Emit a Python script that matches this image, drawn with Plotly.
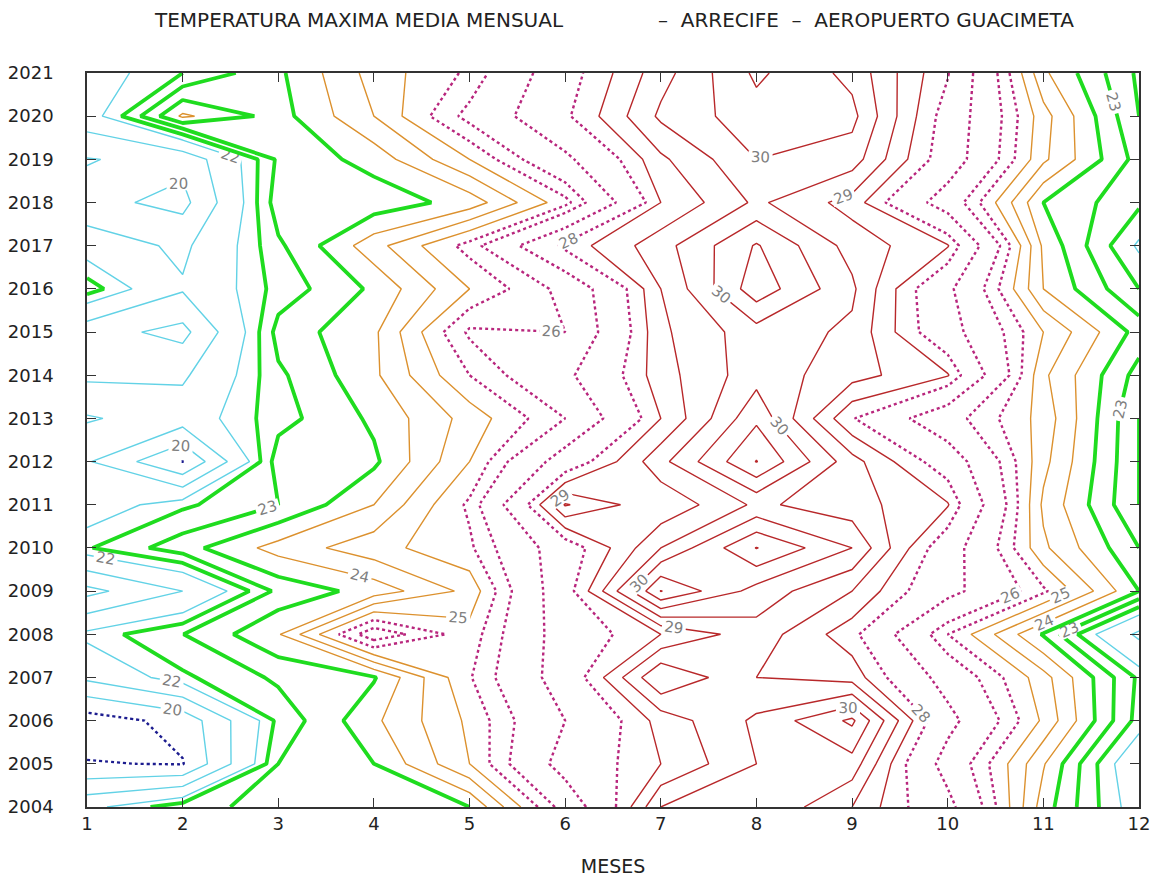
import plotly.graph_objects as go

months = list(range(1, 13))
years = list(range(2004, 2022))

# Mean monthly max temperature (rows = years 2004..2021, cols = months 1..12)
t2004 = [21.77, 22.87, 23.13, 23.3, 23.5, 26.3, 29.5, 30.0, 29.0, 27.3, 23.75, 21.6]
t2005 = [19.05, 18.95, 23.0, 23.5, 25.0, 27.4, 28.5, 29.5, 29.8, 26.6, 24.05, 21.3]
t2006 = [18.5, 19.33, 22.65, 23.9, 25.1, 27.0, 28.7, 29.6, 30.6, 27.3, 24.9, 22.3]
t2007 = [21.2, 22.4, 23.1, 23.45, 25.45, 27.5, 30.0, 29.0, 28.8, 26.6, 24.7, 22.4]
t2008 = [22.2, 22.99, 23.95, 26.4, 25.2, 27.5, 28.5, 29.3, 28.2, 25.5, 23.45, 20.8]
t2009 = [19.7, 21.0, 23.15, 23.7, 24.65, 27.7, 31.02, 29.8, 29.0, 27.3, 25.6, 23.5]
t2010 = [22.45, 23.3, 24.2, 24.8, 25.4, 27.6, 29.5, 31.02, 30.0, 27.5, 24.6, 23.0]
t2011 = [21.5, 22.4, 23.0, 24.0, 25.6, 29.55, 28.6, 29.6, 29.2, 28.55, 24.4, 22.5]
t2012 = [21.1, 18.98, 23.3, 23.4, 25.0, 27.5, 29.35, 31.02, 29.2, 27.6, 24.65, 22.5]
t2013 = [22.1, 21.5, 22.8, 23.6, 24.7, 26.0, 28.5, 30.4, 28.05, 26.3, 24.8, 22.5]
t2014 = [20.8, 20.85, 22.9, 23.9, 25.5, 26.8, 28.8, 29.8, 29.2, 28.55, 24.6, 22.8]
t2015 = [20.4, 19.7, 23.2, 23.9, 26.1, 26.0, 28.9, 29.8, 29.4, 27.4, 25.0, 23.3]
t2016 = [22.8, 21.1, 22.7, 23.6, 25.0, 26.2, 29.0, 30.8, 29.6, 27.2, 24.0, 22.5]
t2017 = [21.6, 20.8, 22.9, 24.3, 25.7, 28.2, 29.3, 30.55, 29.3, 28.55, 23.9, 21.9]
t2018 = [20.3, 19.7, 23.3, 23.2, 23.7, 25.3, 28.5, 29.6, 28.8, 26.5, 23.5, 22.6]
t2019 = [19.95, 20.3, 23.1, 23.7, 25.0, 26.8, 28.9, 30.0, 29.75, 27.6, 24.6, 22.8]
t2020 = [21.6, 24.1, 23.3, 24.5, 26.2, 27.9, 29.6, 30.3, 30.15, 27.7, 24.7, 22.5]
t2021 = [21.6, 22.5, 23.4, 24.7, 25.6, 27.7, 29.3, 30.6, 29.85, 28.05, 24.1, 22.4]

temps = [t2004, t2005, t2006, t2007, t2008, t2009, t2010, t2011, t2012,
         t2013, t2014, t2015, t2016, t2017, t2018, t2019, t2020, t2021]

# contour levels and their groups
levels_blue = [19]
levels_cyan = [20, 21, 22]
levels_green = [22.5, 23, 23.5]
levels_orange = [24, 24.5, 25]
levels_magenta = [25.5, 26, 27, 28]
levels_red = [28.5, 29, 29.5, 30, 30.5, 31]
labeled = [20, 22, 23, 24, 25, 26, 28, 29, 30]

styles = [
    (levels_blue, "#1c1c8f", 2.4, "dot"),
    (levels_cyan, "#62d2e6", 1.4, "solid"),
    (levels_green, "#1fdc1f", 3.8, "solid"),
    (levels_orange, "#dc912e", 1.4, "solid"),
    (levels_magenta, "#b8267d", 2.4, "dot"),
    (levels_red, "#b8282a", 1.4, "solid"),
]

fig = go.Figure()
for levs, col, w, dash in styles:
    for lv in levs:
        fig.add_trace(go.Contour(
            x=months, y=years, z=temps,
            autocontour=False,
            contours=dict(start=lv, end=lv, size=1, coloring="lines",
                          showlabels=(lv in labeled),
                          labelfont=dict(family="DejaVu Sans", size=15, color="#7f7f7f"),
                          labelformat=".0f"),
            colorscale=[[0, col], [1, col]],
            showscale=False,
            line=dict(width=w, dash=dash, smoothing=0),
            hoverinfo="skip",
        ))

# page has an 8px body margin: figure is placed at (8, 8)
W, H = 1142, 869
L, T = 79, 65                 # plot area starts at page (87, 73)
PW, PH = 1052.4, 733.6        # plot area size
axis_font = dict(family="DejaVu Sans", size=18, color="#222222")
fig.update_layout(
    width=W, height=H,
    margin=dict(l=L, r=W - L - PW, t=T, b=H - T - PH, autoexpand=False),
    paper_bgcolor="white", plot_bgcolor="white",
    showlegend=False,
    xaxis=dict(range=[1, 12], tickmode="array", tickvals=months,
               ticks="inside", ticklen=9, tickwidth=1.3, tickcolor="#333",
               showline=True, linecolor="#333", linewidth=1.5, mirror="ticks",
               showgrid=False, zeroline=False, tickfont=axis_font,
               ticklabeloverflow="allow",
               title=dict(text="MESES", font=dict(family="DejaVu Sans", size=19, color="#222"),
                          standoff=38)),
    yaxis=dict(range=[2004, 2021], tickmode="array", tickvals=years,
               ticks="inside", ticklen=9, tickwidth=1.3, tickcolor="#333",
               showline=True, linecolor="#333", linewidth=1.5, mirror="ticks",
               showgrid=False, zeroline=False, tickfont=axis_font,
               ticklabeloverflow="allow", ticklabelstandoff=28),
)
ty = 1 + (73 - 20) / PH
fig.add_annotation(text="TEMPERATURA MAXIMA MEDIA MENSUAL", xref="paper", yref="paper",
                   x=(359.5 - 87) / PW, y=ty, xanchor="center", yanchor="middle",
                   showarrow=False, font=dict(family="DejaVu Sans", size=20, color="#222"))
fig.add_annotation(text="–  ARRECIFE  –  AEROPUERTO GUACIMETA", xref="paper", yref="paper",
                   x=(866.5 - 87) / PW, y=ty, xanchor="center", yanchor="middle",
                   showarrow=False, font=dict(family="DejaVu Sans", size=20, color="#222"))

fig.write_html("out.html")
